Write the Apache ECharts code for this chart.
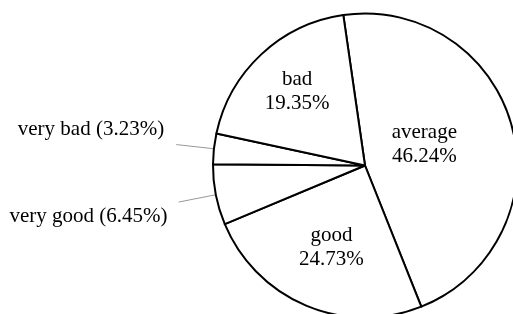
<!DOCTYPE html>
<html>
<head>
<meta charset="utf-8">
<script src="https://cdn.jsdelivr.net/npm/echarts@6/dist/echarts.min.js"></script>
<style>
  html, body { margin: 0; padding: 0; background: #fff; }
  #chart { width: 513px; height: 314px; }
</style>
</head>
<body>
<div id="chart"></div>
<script>
// slices in clockwise order from the top line
var categories = ["average", "good", "very good", "very bad", "bad"];
var percents = [46.24, 24.73, 6.45, 3.23, 19.35];
var outsideLabels = ["very good", "very bad"];

// label nudges (px) so text sits where the original put it
var labelShift = [[-17, -1], [-3, 9], [-6, 15], [-7, -15], [-14, -16]];

var chart = echarts.init(document.getElementById("chart"));

var data = categories.map(function (name, i) {
  var item = { name: name, value: percents[i] };
  if (outsideLabels.indexOf(name) >= 0) {
    item.label = { position: "outside", formatter: "{b} ({c}%)" };
    item.labelLine = { show: true };
  }
  return item;
});

chart.setOption({
  backgroundColor: "#fff",
  animation: false,
  series: [
    {
      type: "pie",
      center: [365, 165.5],
      radius: 152,
      startAngle: 98.2,
      clockwise: true,
      avoidLabelOverlap: false,
      itemStyle: {
        color: "#fff",
        borderColor: "#000",
        borderWidth: 2
      },
      emphasis: { disabled: true },
      label: {
        show: true,
        position: "inside",
        color: "#000",
        fontFamily: "Liberation Serif",
        fontSize: 21,
        lineHeight: 24,
        formatter: function (p) {
          return p.name + "\n" + p.value.toFixed(2) + "%";
        }
      },
      labelLine: {
        show: false,
        length: 37,
        length2: 1,
        lineStyle: { color: "#999", width: 1 }
      },
      labelLayout: function (p) {
        var s = labelShift[p.dataIndex];
        return { dx: s[0], dy: s[1] };
      },
      data: data
    }
  ]
});
</script>
</body>
</html>
